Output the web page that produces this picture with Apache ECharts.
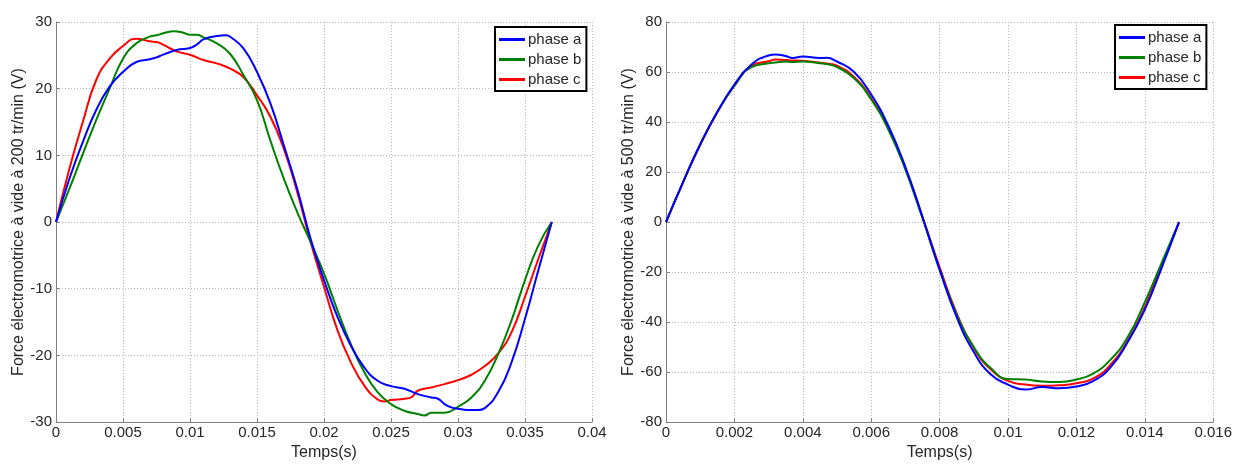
<!DOCTYPE html>
<html>
<head>
<meta charset="utf-8">
<script src="https://cdn.jsdelivr.net/npm/echarts@6/dist/echarts.min.js"></script>
<style>
html,body{margin:0;padding:0;background:#fff;}
#c{width:1235px;height:466px;}
</style>
</head>
<body>
<div id="c"></div>
<script>
// ---------- Left chart (200 tr/min) ----------
var leftTA = [0,0.001,0.002,0.003,0.004,0.005,0.006,0.007,0.0075,0.008,0.009,0.01,0.0105,0.011,0.012,0.0127,0.013,0.014,0.015,0.016,0.017,0.018,0.019,0.02,0.021,0.022,0.023,0.024,0.025,0.026,0.027,0.028,0.0285,0.029,0.0295,0.03,0.031,0.0315,0.032,0.033,0.034,0.035,0.036,0.037];
var leftA  = [0,6.5,12,16.8,20.3,22.5,24,24.4,24.7,25.1,25.8,26.1,26.6,27.4,27.9,28,27.8,26,22.5,17.8,11.5,5,-2.5,-8.7,-14.2,-18.5,-21.8,-23.8,-24.6,-25,-25.8,-26.3,-26.5,-27.3,-27.8,-28,-28.2,-28.2,-27.9,-25.5,-21,-14.5,-7.2,0];

var leftTB = [0,0.001,0.002,0.003,0.004,0.005,0.006,0.007,0.0075,0.008,0.0088,0.0095,0.01,0.0105,0.011,0.012,0.013,0.014,0.015,0.016,0.017,0.018,0.019,0.02,0.021,0.022,0.023,0.024,0.025,0.026,0.027,0.0275,0.028,0.0285,0.029,0.03,0.031,0.032,0.033,0.034,0.035,0.036,0.037];
var leftB  = [0,5,10.2,15.3,20,24.5,26.8,27.8,28,28.3,28.6,28.4,28.1,28.1,27.7,26.8,25.2,22,18.3,12.2,6.5,1.5,-3,-7.7,-13.2,-18.3,-22.5,-25.5,-27.3,-28.3,-28.8,-29,-28.6,-28.6,-28.6,-27.7,-26.3,-23.8,-19.8,-14.7,-8.7,-3.5,0];

var leftTC = [0,0.001,0.002,0.003,0.004,0.005,0.006,0.007,0.0075,0.008,0.009,0.01,0.011,0.012,0.013,0.014,0.015,0.016,0.017,0.018,0.019,0.02,0.021,0.022,0.023,0.024,0.0245,0.025,0.026,0.0265,0.027,0.028,0.029,0.03,0.031,0.032,0.033,0.034,0.035,0.036,0.037];
var leftC  = [0,8,15,21.3,24.5,26.4,27.5,27.1,27,26.6,25.6,25.1,24.3,23.8,23,21.7,19,15.8,11,4.5,-3,-9.7,-16.2,-21,-24.5,-26.6,-26.9,-26.7,-26.5,-26.3,-25.3,-24.8,-24.3,-23.7,-22.9,-21.6,-19.7,-16.5,-11.2,-5.5,0];

// ---------- Right chart (500 tr/min) ----------
var rightT = [0,0.0005,0.001,0.0015,0.002,0.0025,0.003,0.0032,0.0035,0.0037,0.004,0.0045,0.0047,0.005,0.0055,0.006,0.0065,0.007,0.0075,0.008,0.0085,0.009,0.0095,0.01,0.0105,0.011,0.0115,0.012,0.0125,0.013,0.0135,0.014,0.0145,0.015];
var rightA = [0,16,31,44,55,63,66.6,67,66.4,65.6,66.2,65.6,65.7,64.2,60,51,38.5,22,2,-19,-38,-52,-61,-65,-67,-66,-66.5,-65.8,-63.5,-58,-48,-35,-18,0];
var rightB = [0,16,31,44,54.5,62,63.5,63.8,64.2,64,64.2,63.5,63.2,62,57.5,49,37,21,1.5,-19,-37,-50,-58.5,-62.8,-63,-63.8,-64,-63,-60.5,-55,-46,-32,-16,0];
var rightC = [0,16,31,44,54.5,62.5,64.3,65,64.8,64.6,64.5,63.7,63.4,62.5,58,49.5,37.5,21.5,2,-18,-36.5,-50.5,-59,-63.5,-65,-65.5,-65.3,-64.5,-62.5,-57,-47.5,-34,-17,0];

// ---------- Axis ticks ----------
var leftXTicks  = [0,0.005,0.01,0.015,0.02,0.025,0.03,0.035,0.04];
var leftYTicks  = [-30,-20,-10,0,10,20,30];
var rightXTicks = [0,0.002,0.004,0.006,0.008,0.01,0.012,0.014,0.016];
var rightYTicks = [-80,-60,-40,-20,0,20,40,60,80];

var seriesNames = ['phase a','phase b','phase c'];
var colors = ['#0000ff','#008000','#ff0000'];

function pairs(t, v){ return t.map(function(x,i){ return [x, v[i]]; }); }

var FONT = 'Liberation Sans, Arial, sans-serif';
var labelStyle = {color:'#262626', fontSize:15, fontFamily:FONT};

function xAx(gi, ticks, name){
  return {
    type:'value', gridIndex:gi, min:ticks[0], max:ticks[ticks.length-1],
    interval:ticks[1]-ticks[0],
    name:name, nameLocation:'middle', nameGap:22,
    nameTextStyle:{color:'#262626', fontSize:16, fontFamily:FONT},
    axisLine:{show:true, onZero:false, lineStyle:{color:'#808080', width:1}},
    axisTick:{show:true, inside:true, length:4, lineStyle:{color:'#808080'}},
    axisLabel:Object.assign({margin:3, showMinLabel:true, showMaxLabel:true}, labelStyle),
    splitLine:{show:true, lineStyle:{color:'#b8b8b8', type:[1,2], width:1}}
  };
}
function yAx(gi, ticks, name, gap){
  return {
    type:'value', gridIndex:gi, min:ticks[0], max:ticks[ticks.length-1],
    interval:ticks[1]-ticks[0],
    name:name, nameLocation:'middle', nameGap:gap,
    nameTextStyle:{color:'#262626', fontSize:16, fontFamily:FONT},
    axisLine:{show:true, onZero:false, lineStyle:{color:'#808080', width:1}},
    axisTick:{show:true, inside:true, length:4, lineStyle:{color:'#808080'}},
    axisLabel:Object.assign({margin:4}, labelStyle),
    splitLine:{show:true, lineStyle:{color:'#b8b8b8', type:[1,2], width:1}}
  };
}

var leftData = [pairs(leftTA,leftA), pairs(leftTB,leftB), pairs(leftTC,leftC)];
var rightData = [pairs(rightT,rightA), pairs(rightT,rightB), pairs(rightT,rightC)];

var series = [];
[leftData, rightData].forEach(function(set, gi){
  set.forEach(function(d, i){
    series.push({
      name:seriesNames[i], type:'line', xAxisIndex:gi, yAxisIndex:gi,
      data:d, showSymbol:false, symbol:'none', smooth:0.5,
      lineStyle:{color:colors[i], width:2}, itemStyle:{color:colors[i]},
      animation:false, z:5-i
    });
  });
});

function legendCfg(left, top){
  return {
    data:seriesNames, orient:'vertical', left:left, top:top,
    backgroundColor:'#fff', borderColor:'#000', borderWidth:2, borderRadius:0,
    padding:[5,5,4,4], itemGap:5, itemWidth:26, itemHeight:3, icon:'rect',
    textStyle:{color:'#262626', fontSize:15, fontFamily:FONT, lineHeight:15, padding:[0,0,0,-2]},
    selectedMode:false
  };
}

var chart = echarts.init(document.getElementById('c'), null, {renderer:'canvas'});
chart.setOption({
  backgroundColor:'#ffffff',
  animation:false,
  color:colors,
  grid:[
    {left:56, top:22, width:536, height:405, containLabel:false},
    {left:666, top:22, width:548, height:409, containLabel:false}
  ],
  xAxis:[xAx(0, leftXTicks, 'Temps(s)'), xAx(1, rightXTicks, 'Temps(s)')],
  yAxis:[
    yAx(0, leftYTicks, 'Force électromotrice à vide à 200 tr/min (V)', 27),
    yAx(1, rightYTicks, 'Force électromotrice à vide à 500 tr/min (V)', 28)
  ],
  legend:[legendCfg(495, 27), legendCfg(1115, 25)],
  series:series
});
</script>
</body>
</html>
